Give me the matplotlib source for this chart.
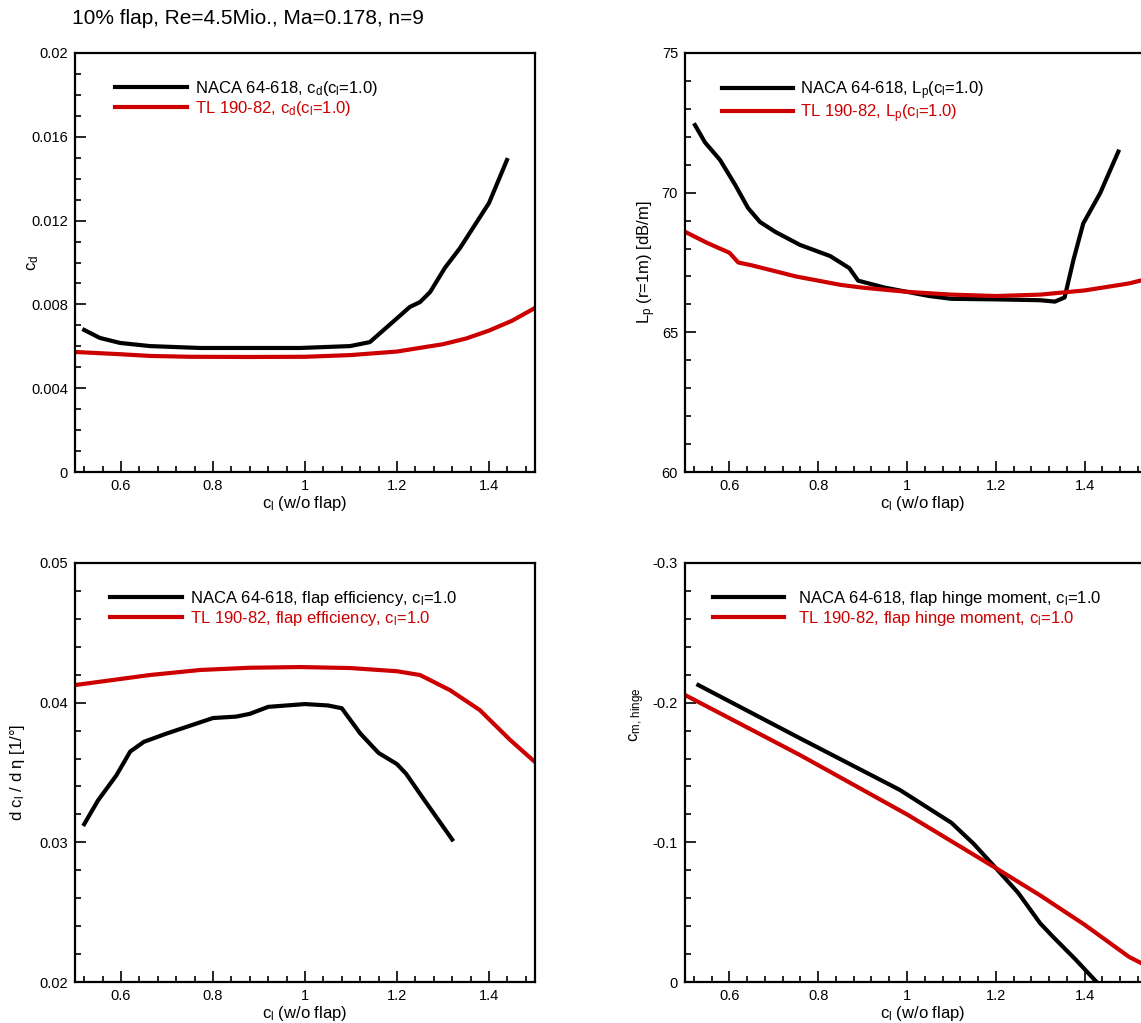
import matplotlib
matplotlib.use("Agg")
import matplotlib.pyplot as plt
from matplotlib.ticker import MultipleLocator, FormatStrFormatter

plt.rcParams['font.family'] = ['Liberation Sans', 'DejaVu Sans']
plt.rcParams['mathtext.fontset'] = 'custom'
plt.rcParams['mathtext.rm'] = 'Liberation Sans'
plt.rcParams['mathtext.it'] = 'Liberation Sans'
plt.rcParams['mathtext.bf'] = 'Liberation Sans'
plt.rcParams['axes.unicode_minus'] = False

RED = '#cc0000'

# drag coefficient
cd_naca_cl = [0.52, 0.554, 0.598, 0.663, 0.772, 0.989, 1.098, 1.141, 1.196, 1.228, 1.25, 1.272, 1.304, 1.337, 1.40, 1.439]
cd_naca = [0.00678, 0.00640, 0.00616, 0.00601, 0.00592, 0.00592, 0.00601, 0.00620, 0.00726, 0.00788, 0.00811, 0.00859, 0.00974, 0.01069, 0.01284, 0.01489]
cd_tl_cl = [0.5, 0.6, 0.663, 0.75, 0.88, 1.0, 1.098, 1.2, 1.3, 1.35, 1.4, 1.45, 1.5]
cd_tl = [0.00573, 0.00562, 0.00554, 0.00550, 0.00549, 0.00550, 0.00558, 0.00575, 0.00610, 0.00637, 0.00675, 0.00722, 0.00783]

# sound pressure level
lp_naca_cl = [0.5225, 0.545, 0.579, 0.613, 0.642, 0.669, 0.703, 0.759, 0.827, 0.87, 0.89, 0.95, 1.05, 1.1, 1.2, 1.3, 1.333, 1.355, 1.375, 1.397, 1.435, 1.476]
lp_naca = [72.42, 71.8, 71.17, 70.28, 69.45, 68.95, 68.6, 68.13, 67.73, 67.3, 66.85, 66.6, 66.3, 66.2, 66.18, 66.15, 66.1, 66.25, 67.6, 68.9, 69.98, 71.47]
lp_tl_cl = [0.5, 0.55, 0.6, 0.62, 0.65, 0.7, 0.75, 0.8, 0.85, 0.9, 1.0, 1.1, 1.2, 1.3, 1.4, 1.5, 1.53]
lp_tl = [68.6, 68.2, 67.85, 67.5, 67.4, 67.2, 67.0, 66.85, 66.7, 66.6, 66.45, 66.35, 66.3, 66.35, 66.5, 66.75, 66.87]

# flap efficiency
eff_naca_cl = [0.52, 0.55, 0.59, 0.62, 0.65, 0.7, 0.8, 0.85, 0.88, 0.92, 1.0, 1.05, 1.08, 1.12, 1.16, 1.2, 1.22, 1.26, 1.32]
eff_naca = [0.0313, 0.0330, 0.0348, 0.0365, 0.0372, 0.0378, 0.0389, 0.0390, 0.0392, 0.0397, 0.0399, 0.0398, 0.0396, 0.0378, 0.0364, 0.0356, 0.0349, 0.0330, 0.0302]
eff_tl_cl = [0.5, 0.663, 0.772, 0.88, 0.989, 1.098, 1.2, 1.25, 1.315, 1.38, 1.446, 1.5]
eff_tl = [0.04126, 0.04198, 0.04234, 0.04250, 0.04255, 0.04248, 0.04225, 0.04198, 0.0409, 0.03947, 0.03733, 0.03575]

# flap hinge moment
cm_naca_cl = [0.53, 0.759, 0.984, 1.1, 1.15, 1.2, 1.25, 1.3, 1.33, 1.38, 1.427]
cm_naca = [-0.2126, -0.1745, -0.1375, -0.114, -0.099, -0.0816, -0.064, -0.042, -0.032, -0.016, 0.0]
cm_tl_cl = [0.5, 0.759, 1.0, 1.2, 1.3, 1.4, 1.5, 1.527]
cm_tl = [-0.2055, -0.1625, -0.120, -0.0816, -0.062, -0.041, -0.018, -0.0136]

fig = plt.figure(figsize=(11.41, 10.23), dpi=100)
W, H = 1141.0, 1023.0


def make_axes(x0, y_top, xmax, px_per_unit):
    width = (xmax - 0.5) * px_per_unit
    ax = fig.add_axes([x0 / W, (H - y_top - 419) / H, width / W, 419 / H])
    ax.set_xlim(0.5, xmax)
    for side in ['top', 'right', 'left', 'bottom']:
        ax.spines[side].set_linewidth(1.6)
    ax.tick_params(which='both', direction='in', top=False, right=False,
                   labelsize=10.5, width=1.2)
    ax.tick_params(which='major', length=8)
    ax.tick_params(which='minor', length=4.5)
    ax.tick_params(axis='y', pad=5)
    ax.tick_params(axis='x', pad=5)
    ax.xaxis.set_major_locator(MultipleLocator(0.2))
    ax.xaxis.set_minor_locator(MultipleLocator(0.04))
    ax.xaxis.set_major_formatter(FormatStrFormatter('%g'))
    ax.yaxis.set_major_formatter(FormatStrFormatter('%g'))
    ax.set_xlabel('$c_l$ (w/o flap)', fontsize=12, labelpad=1)
    return ax


def add_legend(ax, x, pad):
    ax.legend(loc='upper left', bbox_to_anchor=(x, 0.938), frameon=False,
              fontsize=12, handlelength=4.3, handletextpad=pad,
              borderpad=0, borderaxespad=0, labelspacing=0.05,
              labelcolor='linecolor')


# right-hand panels run past the right border of the figure
ax1 = make_axes(75, 53, 1.5, 460)
ax2 = make_axes(685, 53, 1.57, 444)
ax3 = make_axes(75, 563, 1.5, 460)
ax4 = make_axes(685, 563, 1.57, 444)

ax1.plot(cd_naca_cl, cd_naca, color='black', lw=3, label='NACA 64-618, $c_d$($c_l$=1.0)')
ax1.plot(cd_tl_cl, cd_tl, color=RED, lw=3, label='TL 190-82, $c_d$($c_l$=1.0)')
ax1.set_ylim(0, 0.02)
ax1.yaxis.set_major_locator(MultipleLocator(0.004))
ax1.yaxis.set_minor_locator(MultipleLocator(0.001))
ax1.set_ylabel('$c_d$', fontsize=12)
ax1.yaxis.set_label_coords(-0.074, 0.5)
add_legend(ax1, 0.087, 0.48)

ax2.plot(lp_naca_cl, lp_naca, color='black', lw=3, label='NACA 64-618, $L_p$($c_l$=1.0)')
ax2.plot(lp_tl_cl, lp_tl, color=RED, lw=3, label='TL 190-82, $L_p$($c_l$=1.0)')
ax2.set_ylim(60, 75)
ax2.yaxis.set_major_locator(MultipleLocator(5))
ax2.yaxis.set_minor_locator(MultipleLocator(1))
ax2.set_ylabel('$L_p$ (r=1m) [dB/m]', fontsize=12)
ax2.yaxis.set_label_coords(-0.057, 0.5)
add_legend(ax2, 0.077, 0.42)

ax3.plot(eff_naca_cl, eff_naca, color='black', lw=3, label='NACA 64-618, flap efficiency, $c_l$=1.0')
ax3.plot(eff_tl_cl, eff_tl, color=RED, lw=3, label='TL 190-82, flap efficiency, $c_l$=1.0')
ax3.set_ylim(0.02, 0.05)
ax3.yaxis.set_major_locator(MultipleLocator(0.01))
ax3.yaxis.set_minor_locator(MultipleLocator(0.002))
ax3.set_ylabel('d $c_l$ / d η [1/°]', fontsize=12)
ax3.yaxis.set_label_coords(-0.104, 0.5)
add_legend(ax3, 0.076, 0.48)

ax4.plot(cm_naca_cl, cm_naca, color='black', lw=3, label='NACA 64-618, flap hinge moment, $c_l$=1.0')
ax4.plot(cm_tl_cl, cm_tl, color=RED, lw=3, label='TL 190-82, flap hinge moment, $c_l$=1.0')
ax4.set_ylim(0, -0.3)
ax4.yaxis.set_major_locator(MultipleLocator(0.1))
ax4.yaxis.set_minor_locator(MultipleLocator(0.02))
ax4.set_ylabel('$c_{m,\\,hinge}$', fontsize=12)
ax4.yaxis.set_label_coords(-0.08, 0.637)
add_legend(ax4, 0.058, 0.84)

fig.text(72 / W, 1 - 18 / H, '10% flap, Re=4.5Mio., Ma=0.178, n=9',
         fontsize=15, ha='left', va='center')

fig.savefig('out.png', dpi=100)
